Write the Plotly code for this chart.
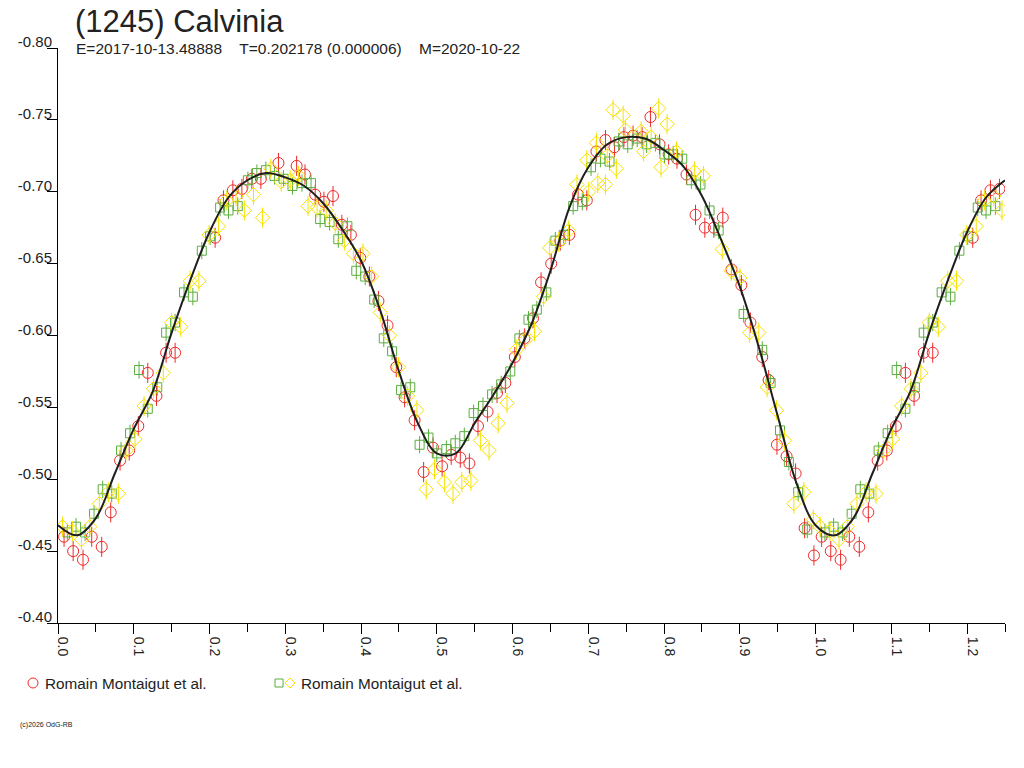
import plotly.graph_objects as go

# ---------------- text ----------------
title_text = "(1245) Calvinia"
subtitle_text = "E=2017-10-13.48888&nbsp;&nbsp;&nbsp;&nbsp;T=0.202178 (0.000006)&nbsp;&nbsp;&nbsp;&nbsp;M=2020-10-22"
legend_label_1 = "Romain Montaigut et al."
legend_label_2 = "Romain Montaigut et al."
copyright_text = "(c)2026 OdG-RB"

y_ticks = [-0.80, -0.75, -0.70, -0.65, -0.60, -0.55, -0.50, -0.45, -0.40]

# ---------------- data (phase, reduced magnitude) ----------------
red_phase = [0.008, 0.020, 0.033, 0.0445, 0.0577, 0.0696, 0.0819, 0.094, 0.106, 0.1185,
             0.130, 0.1427, 0.1546, 0.2074, 0.2184, 0.2308, 0.2427, 0.2559, 0.2678, 0.291,
             0.315, 0.326, 0.3395, 0.351, 0.363, 0.3747, 0.3866, 0.399, 0.411, 0.423,
             0.435, 0.4465, 0.4575, 0.4707, 0.4826, 0.495, 0.507, 0.519, 0.531, 0.543,
             0.5544, 0.567, 0.5795, 0.5905, 0.603, 0.6156, 0.627, 0.6376, 0.651, 0.663,
             0.675, 0.6865, 0.698, 0.7107, 0.7226, 0.7345, 0.747, 0.759, 0.771, 0.782,
             0.794, 0.806, 0.817, 0.8296, 0.8415, 0.8538, 0.8657, 0.8775, 0.889, 0.902,
             0.914, 0.9296, 0.938, 0.949, 0.9617, 0.9736, 0.9855, 0.9978]
red_mag = [-0.460, -0.450, -0.444, -0.460, -0.453, -0.477, -0.513, -0.520, -0.537, -0.574,
           -0.558, -0.588, -0.588, -0.668, -0.694, -0.701, -0.702, -0.709, -0.709, -0.720,
           -0.718, -0.712, -0.698, -0.693, -0.697, -0.677, -0.670, -0.654, -0.641, -0.624,
           -0.607, -0.578, -0.557, -0.541, -0.505, -0.522, -0.509, -0.517, -0.515, -0.511,
           -0.537, -0.547, -0.560, -0.567, -0.585, -0.598, -0.612, -0.637, -0.650, -0.666,
           -0.670, -0.698, -0.694, -0.728, -0.736, -0.731, -0.738, -0.739, -0.738, -0.752,
           -0.733, -0.726, -0.723, -0.712, -0.684, -0.675, -0.675, -0.682, -0.646, -0.635,
           -0.609, -0.585, -0.569, -0.524, -0.516, -0.504, -0.466, -0.447]

green_phase = [0.0123, 0.0238, 0.0357, 0.0476, 0.059, 0.0709, 0.0832, 0.0951, 0.107, 0.1185,
               0.131, 0.1427, 0.1546, 0.1664, 0.178, 0.1898, 0.2008, 0.214, 0.225, 0.2373,
               0.2506, 0.2625, 0.2744, 0.2857, 0.2977, 0.3095, 0.322, 0.334, 0.346, 0.3585,
               0.370, 0.382, 0.3937, 0.4055, 0.4174, 0.430, 0.441, 0.4527, 0.465, 0.4773,
               0.489, 0.500, 0.5126, 0.5244, 0.5363, 0.5486, 0.561, 0.573, 0.585, 0.597,
               0.609, 0.621, 0.632, 0.6446, 0.6565, 0.6675, 0.680, 0.692, 0.7036, 0.716,
               0.728, 0.740, 0.752, 0.7645, 0.777, 0.7886, 0.8005, 0.812, 0.824, 0.836,
               0.848, 0.860, 0.872, 0.905, 0.9296, 0.9406, 0.953, 0.9647, 0.977, 0.989]
green_mag = [-0.463, -0.467, -0.463, -0.476, -0.493, -0.490, -0.520, -0.532, -0.576, -0.549,
             -0.564, -0.602, -0.609, -0.630, -0.627, -0.659, -0.669, -0.689, -0.687, -0.690,
             -0.708, -0.713, -0.715, -0.711, -0.709, -0.704, -0.706, -0.706, -0.681, -0.679,
             -0.667, -0.676, -0.645, -0.641, -0.625, -0.598, -0.589, -0.562, -0.564, -0.524,
             -0.529, -0.518, -0.521, -0.525, -0.530, -0.546, -0.551, -0.559, -0.566, -0.575,
             -0.598, -0.611, -0.618, -0.630, -0.666, -0.670, -0.690, -0.693, -0.717, -0.723,
             -0.721, -0.735, -0.733, -0.737, -0.733, -0.734, -0.726, -0.726, -0.723, -0.708,
             -0.705, -0.687, -0.673, -0.615, -0.590, -0.567, -0.534, -0.512, -0.491, -0.465]

yellow_phase = [0.006, 0.019, 0.031, 0.042, 0.0546, 0.0665, 0.0797, 0.0898, 0.1017, 0.1136,
                0.126, 0.139, 0.150, 0.162, 0.1744, 0.186, 0.1995, 0.212, 0.2228, 0.235,
                0.246, 0.258, 0.270, 0.281, 0.2946, 0.3065, 0.3175, 0.330, 0.342, 0.354,
                0.366, 0.378, 0.390, 0.4025, 0.414, 0.4254, 0.4377, 0.4495, 0.4615, 0.4738,
                0.486, 0.497, 0.510, 0.5214, 0.533, 0.545, 0.5575, 0.569, 0.581, 0.5927,
                0.605, 0.617, 0.629, 0.641, 0.649, 0.661, 0.674, 0.685, 0.698, 0.7006,
                0.7107, 0.7125, 0.7226, 0.725, 0.7327, 0.737, 0.746, 0.749, 0.7697, 0.773,
                0.783, 0.793, 0.796, 0.804, 0.8164, 0.840, 0.852, 0.8768, 0.8886, 0.900,
                0.913, 0.925, 0.936, 0.9485, 0.959, 0.9713, 0.9846, 0.997]
yellow_mag = [-0.467, -0.464, -0.458, -0.467, -0.483, -0.491, -0.490, -0.520, -0.528, -0.551,
              -0.563, -0.574, -0.609, -0.606, -0.638, -0.638, -0.670, -0.676, -0.694, -0.697,
              -0.687, -0.698, -0.682, -0.716, -0.707, -0.708, -0.711, -0.690, -0.689, -0.687,
              -0.678, -0.666, -0.657, -0.657, -0.641, -0.616, -0.600, -0.578, -0.558, -0.548,
              -0.493, -0.507, -0.498, -0.490, -0.498, -0.499, -0.527, -0.520, -0.539, -0.553,
              -0.590, -0.597, -0.603, -0.627, -0.661, -0.665, -0.673, -0.705, -0.722, -0.700,
              -0.734, -0.706, -0.705, -0.725, -0.757, -0.716, -0.753, -0.743, -0.742, -0.728,
              -0.738, -0.758, -0.717, -0.747, -0.728, -0.714, -0.711, -0.660, -0.645, -0.640,
              -0.602, -0.602, -0.564, -0.548, -0.527, -0.483, -0.491, -0.472]

curve_phase = [0.000, 0.025, 0.050, 0.075, 0.100, 0.125, 0.150, 0.175, 0.200, 0.225,
               0.250, 0.275, 0.300, 0.325, 0.350, 0.375, 0.400, 0.425, 0.450, 0.475,
               0.500, 0.525, 0.550, 0.575, 0.600, 0.625, 0.650, 0.675, 0.700, 0.725,
               0.750, 0.775, 0.800, 0.825, 0.850, 0.875, 0.900, 0.925, 0.950, 0.975]
curve_mag = [-0.468, -0.461, -0.473, -0.504, -0.535, -0.561, -0.602, -0.639, -0.672, -0.696,
             -0.708, -0.713, -0.710, -0.704, -0.692, -0.674, -0.652, -0.618, -0.575, -0.539,
             -0.518, -0.518, -0.539, -0.559, -0.581, -0.608, -0.645, -0.689, -0.717, -0.733,
             -0.738, -0.737, -0.729, -0.718, -0.697, -0.667, -0.634, -0.592, -0.544, -0.497]

error_red = 0.007
error_green = 0.006
error_yellow = 0.007

# ---------------- styles ----------------
RED = "#ee2a2a"
GREEN = "#5aae3e"
YELLOW = "#f6e200"
CURVE = "#1e1e1e"
TEXT = "#222222"
FONT = "Liberation Sans, Arial, sans-serif"

X_MAX = 1.25
WRAP = X_MAX - 1.0


def wrap(ph, mag):
    """Repeat the start of the cycle after phase 1, as the folded plot does."""
    xs = list(ph) + [p + 1.0 for p in ph if p <= WRAP + 1e-9]
    ys = list(mag) + [m for p, m in zip(ph, mag) if p <= WRAP + 1e-9]
    return xs, ys


rx, ry = wrap(red_phase, red_mag)
gx, gy = wrap(green_phase, green_mag)
yx, yy = wrap(yellow_phase, yellow_mag)
cx = list(curve_phase) + [p + 1.0 for p in curve_phase if p <= WRAP + 1e-9]
cy = list(curve_mag) + [m for p, m in zip(curve_phase, curve_mag) if p <= WRAP + 1e-9]

fig = go.Figure()
fig.add_trace(go.Scatter(
    x=rx, y=ry, mode="markers",
    marker=dict(symbol="circle-open", size=11, color=RED, line=dict(width=1, color=RED)),
    error_y=dict(type="constant", value=error_red, color=RED, thickness=1, width=0),
))
fig.add_trace(go.Scatter(
    x=gx, y=gy, mode="markers",
    marker=dict(symbol="square-open", size=9, color=GREEN, line=dict(width=1, color=GREEN)),
    error_y=dict(type="constant", value=error_green, color=GREEN, thickness=1, width=0),
))
fig.add_trace(go.Scatter(
    x=yx, y=yy, mode="markers",
    marker=dict(symbol="diamond-open", size=11, color=YELLOW, line=dict(width=1, color=YELLOW)),
    error_y=dict(type="constant", value=error_yellow, color=YELLOW, thickness=1, width=0),
))
fig.add_trace(go.Scatter(
    x=cx, y=cy, mode="lines",
    line=dict(color=CURVE, width=2, shape="spline", smoothing=1.0),
))

# Figure fills the whole 1024x768 page (body margin removed below).
W, H = 1024, 768
L, R, T, B = 58, 1005, 48, 623


def px(xp):
    return (xp - L) / (R - L)


def py(yp):
    return (B - yp) / (B - T)


annotations = [
    dict(text=title_text, x=px(73), y=py(22), xref="paper", yref="paper",
         xanchor="left", yanchor="middle", showarrow=False,
         font=dict(family=FONT, size=31, color=TEXT)),
    dict(text=subtitle_text, x=px(74), y=py(48), xref="paper", yref="paper",
         xanchor="left", yanchor="middle", showarrow=False,
         font=dict(family=FONT, size=15.5, color=TEXT)),
    dict(text=legend_label_1, x=px(43), y=py(683), xref="paper", yref="paper",
         xanchor="left", yanchor="middle", showarrow=False,
         font=dict(family=FONT, size=15.3, color=TEXT)),
    dict(text=legend_label_2, x=px(299), y=py(683), xref="paper", yref="paper",
         xanchor="left", yanchor="middle", showarrow=False,
         font=dict(family=FONT, size=15.3, color=TEXT)),
    dict(text=copyright_text, x=px(18), y=py(725), xref="paper", yref="paper",
         xanchor="left", yanchor="middle", showarrow=False,
         font=dict(family=FONT, size=7, color=TEXT)),
]

shapes = [
    dict(type="circle", xref="paper", yref="paper", xsizemode="pixel", ysizemode="pixel",
         xanchor=px(33), yanchor=py(683), x0=-5, x1=5, y0=-5, y1=5,
         line=dict(color=RED, width=1)),
    dict(type="rect", xref="paper", yref="paper", xsizemode="pixel", ysizemode="pixel",
         xanchor=px(279), yanchor=py(683), x0=-4, x1=4, y0=-4, y1=4,
         line=dict(color=GREEN, width=1)),
    dict(type="path", xref="paper", yref="paper", xsizemode="pixel", ysizemode="pixel",
         xanchor=px(290), yanchor=py(683), path="M -5 0 L 0 5 L 5 0 L 0 -5 Z",
         line=dict(color=YELLOW, width=1)),
]

fig.update_layout(
    width=W, height=H,
    margin=dict(l=L, r=W - R, t=T, b=H - B, pad=0),
    paper_bgcolor="white", plot_bgcolor="white",
    showlegend=False, hovermode=False,
    annotations=annotations, shapes=shapes,
    xaxis=dict(
        range=[0, X_MAX], tick0=0, dtick=0.1, tickformat=".1f",
        ticks="outside", ticklen=10, tickcolor="black", tickwidth=1,
        tickangle=90, ticklabelshift=5,
        showline=True, linecolor="black", linewidth=1,
        showgrid=False, zeroline=False,
        minor=dict(tick0=0, dtick=0.05, ticks="outside", ticklen=8,
                   tickcolor="black", tickwidth=1, showgrid=False),
        tickfont=dict(family=FONT, size=14, color=TEXT),
    ),
    yaxis=dict(
        range=[y_ticks[-1], y_ticks[0]],
        tickmode="array", tickvals=y_ticks, ticktext=[f"{v:.2f}" for v in y_ticks],
        ticks="outside", ticklen=10, tickcolor="black", tickwidth=1,
        ticklabelshift=6, ticklabelstandoff=-8,
        showline=True, linecolor="black", linewidth=1,
        showgrid=False, zeroline=False,
        tickfont=dict(family=FONT, size=15, color=TEXT),
    ),
)

fig.write_html(
    "out.html",
    config={"displayModeBar": False, "staticPlot": True},
    post_script="document.body.style.margin='0';document.body.style.overflow='hidden';",
)
